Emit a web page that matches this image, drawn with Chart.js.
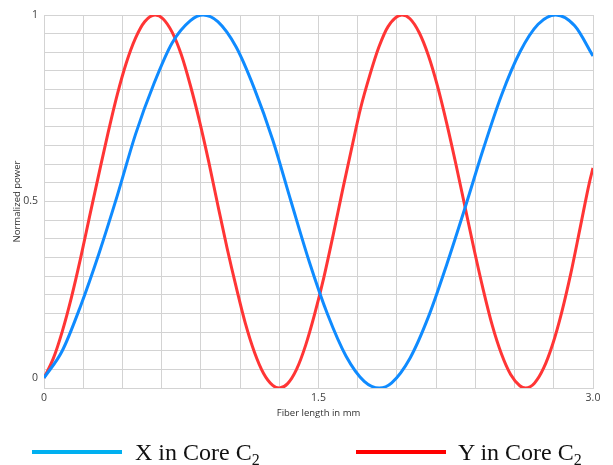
<!DOCTYPE html>
<html>
<head>
<meta charset="utf-8">
<script src="https://cdn.jsdelivr.net/npm/chart.js@4/dist/chart.umd.min.js"></script>
<style>
  html, body { margin: 0; padding: 0; background: #ffffff; }
  #wrap { position: relative; width: 613px; height: 465px; }
  #chart { position: absolute; left: 0; top: 0; }
  .legend-line { position: absolute; height: 4px; }
  .legend-text {
    position: absolute; font-family: "Liberation Serif", "Times New Roman", serif;
    font-size: 24px; line-height: 24px; color: #111; white-space: nowrap;
  }
  .legend-text sub { font-size: 16px; vertical-align: -5px; line-height: 0; }
</style>
</head>
<body>
<div id="wrap">
  <canvas id="chart" width="613" height="465"></canvas>
  <div class="legend-line" style="left:32px; top:450px; width:90px; background:#00b0f0;"></div>
  <div class="legend-text" style="left:135px; top:440px;">X in Core C<sub>2</sub></div>
  <div class="legend-line" style="left:356px; top:450px; width:90px; background:#ff0000;"></div>
  <div class="legend-text" style="left:458px; top:440px;">Y in Core C<sub>2</sub></div>
</div>
<script>
// Normalized power of the X and Y polarisations in core C2 versus fiber length (mm)
const xCoreLength = [0, 0.1, 0.2, 0.3, 0.4, 0.5, 0.6, 0.7, 0.8, 0.869,
  0.95, 1.05, 1.15, 1.25, 1.35, 1.45, 1.55, 1.65, 1.75, 1.832,
  1.9, 2.0, 2.1, 2.2, 2.3, 2.4, 2.5, 2.6, 2.7, 2.796, 2.9, 3.0];
const xCorePower = [0.027, 0.10, 0.22, 0.36, 0.515, 0.68, 0.815, 0.925, 0.985, 1.0,
  0.982, 0.914, 0.802, 0.665, 0.50, 0.338, 0.197, 0.086, 0.018, 0.0,
  0.014, 0.08, 0.19, 0.33, 0.482, 0.64, 0.785, 0.90, 0.975, 1.0, 0.971, 0.89];

const yCoreLength = [0, 0.05, 0.1, 0.15, 0.2, 0.25, 0.3, 0.35, 0.4, 0.45, 0.5, 0.55, 0.607,
  0.65, 0.7, 0.75, 0.8, 0.85, 0.9, 0.95, 1.0, 1.05, 1.1, 1.15, 1.2, 1.25, 1.286,
  1.33, 1.38, 1.43, 1.48, 1.53, 1.58, 1.63, 1.68, 1.73, 1.78, 1.83, 1.88, 1.956,
  2.0, 2.05, 2.1, 2.15, 2.2, 2.25, 2.3, 2.35, 2.4, 2.45, 2.5, 2.55, 2.6, 2.632,
  2.68, 2.73, 2.78, 2.83, 2.88, 2.93, 2.98, 3.0];
const yCorePower = [0.027, 0.078, 0.152, 0.243, 0.348, 0.462, 0.574, 0.684, 0.786, 0.872, 0.938, 0.982, 1.0,
  0.99, 0.954, 0.894, 0.811, 0.715, 0.607, 0.49, 0.376, 0.271, 0.174, 0.096, 0.039, 0.007, 0.0,
  0.011, 0.05, 0.115, 0.2, 0.298, 0.41, 0.527, 0.64, 0.75, 0.838, 0.914, 0.969, 1.0,
  0.99, 0.953, 0.892, 0.81, 0.711, 0.602, 0.487, 0.372, 0.264, 0.167, 0.091, 0.036, 0.006, 0.0,
  0.013, 0.053, 0.118, 0.205, 0.31, 0.43, 0.55, 0.59];

const seriesNames = ['X in Core C\u2082', 'Y in Core C\u2082'];

// axis ticks: 14 divisions along the fiber, 20 along the power axis
const xTickValues = Array.from({ length: 15 }, (_, k) => k * 3 / 14);
const xTickLabels = { 0: '0', 7: '1.5', 14: '3.0' };
const yTickValues = Array.from({ length: 21 }, (_, k) => k / 20);
const yTickLabels = { 10: '0.5', 20: '1' };
const yZeroLabelLevel = 0.028;   // the "0" label sits at the launch level of both curves

const toPoints = (xs, ys) => xs.map((x, i) => ({ x, y: ys[i] }));

const gridColor = '#d3d3d3';

new Chart(document.getElementById('chart'), {
  type: 'line',
  data: {
    datasets: [
      {
        label: seriesNames[0],
        data: toPoints(xCoreLength, xCorePower),
        borderColor: '#0f8bff',
        borderWidth: 3,
        pointRadius: 0,
        cubicInterpolationMode: 'monotone',
        fill: false
      },
      {
        label: seriesNames[1],
        data: toPoints(yCoreLength, yCorePower),
        borderColor: '#ff3535',
        borderWidth: 3,
        pointRadius: 0,
        cubicInterpolationMode: 'monotone',
        fill: false
      }
    ]
  },
  options: {
    responsive: false,
    animation: false,
    layout: { padding: { top: 15, right: 20, left: 0, bottom: 37 } },
    plugins: { legend: { display: false }, tooltip: { enabled: false } },
    scales: {
      x: {
        type: 'linear',
        min: 0,
        max: 3,
        afterBuildTicks: (scale) => { scale.ticks = xTickValues.map(v => ({ value: v })); },
        afterFit: (scale) => { scale.height = 40; },
        grid: { color: gridColor, drawTicks: false, lineWidth: 1 },
        border: { color: gridColor },
        ticks: {
          padding: 4,
          autoSkip: false,
          maxRotation: 0,
          color: '#404040',
          font: { family: 'Open Sans', size: 10.5 },
          callback: (v, i) => (xTickLabels[i] !== undefined ? xTickLabels[i] : '')
        },
        title: {
          display: true,
          text: 'Fiber length in mm',
          color: '#303030',
          font: { family: 'Open Sans', size: 9.5 },
          padding: { top: 0, bottom: 9 }
        }
      },
      y: {
        type: 'linear',
        min: 0,
        max: 1,
        afterBuildTicks: (scale) => {
          const t = yTickValues.map(v => ({ value: v }));
          t.push({ value: yZeroLabelLevel });
          scale.ticks = t;
        },
        afterFit: (scale) => { scale.width = 44; },
        grid: {
          drawTicks: false,
          lineWidth: 1,
          color: (ctx) => (ctx.tick && ctx.tick.value === yZeroLabelLevel ? 'rgba(0,0,0,0)' : gridColor)
        },
        border: { color: gridColor },
        ticks: {
          padding: 6,
          autoSkip: false,
          color: '#404040',
          font: { family: 'Open Sans', size: 10.5 },
          callback: (v) => {
            if (v === yZeroLabelLevel) return '0';
            const k = Math.round(v * 20);
            return Math.abs(v * 20 - k) < 1e-6 && yTickLabels[k] !== undefined ? yTickLabels[k] : '';
          }
        },
        title: {
          display: true,
          text: 'Normalized power',
          color: '#303030',
          font: { family: 'Open Sans', size: 9.5 },
          padding: { top: 12, bottom: 0 }
        }
      }
    }
  }
});
</script>
</body>
</html>
